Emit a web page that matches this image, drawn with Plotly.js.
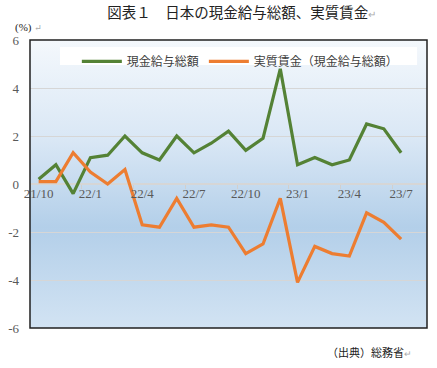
<!DOCTYPE html>
<html><head><meta charset="utf-8">
<script src="https://cdn.plot.ly/plotly-3.0.1.min.js"></script>
<style>html,body{margin:0;padding:0;background:#fff;}#chart{width:437px;height:368px;}</style>
</head><body><div id="chart"></div>
<script>
const months = ["21/10","21/11","21/12","22/1","22/2","22/3","22/4","22/5","22/6","22/7","22/8","22/9","22/10","22/11","22/12","23/1","23/2","23/3","23/4","23/5","23/6","23/7"];
const nominalWage = [0.2,0.8,-0.4,1.1,1.2,2.0,1.3,1.0,2.0,1.3,1.7,2.2,1.4,1.9,4.8,0.8,1.1,0.8,1.0,2.5,2.3,1.3];
const realWage = [0.1,0.1,1.3,0.5,0.0,0.6,-1.7,-1.8,-0.6,-1.8,-1.7,-1.8,-2.9,-2.5,-0.6,-4.1,-2.6,-2.9,-3.0,-1.2,-1.6,-2.3];
const seriesNames = ["現金給与総額","実質賃金（現金給与総額）"];
const yTicks = [-6,-4,-2,0,2,4,6];

const serif = "'Liberation Serif', 'Times New Roman', 'DejaVu Serif', serif";

const grad = "<svg xmlns='http://www.w3.org/2000/svg' width='100' height='100' preserveAspectRatio='none'><defs><linearGradient id='g' x1='0' y1='0' x2='0' y2='1'><stop offset='0' stop-color='#f4f8fc'/><stop offset='0.35' stop-color='#d9e7f5'/><stop offset='0.65' stop-color='#b3cfe9'/><stop offset='1' stop-color='#d2e3f3'/></linearGradient></defs><rect width='100' height='100' fill='url(#g)'/></svg>";
const gradSrc = "data:image/svg+xml;charset=utf-8," + encodeURIComponent(grad);

const traces = [
  {x: months, y: nominalWage, name: seriesNames[0], type: "scatter", mode: "lines", legendgroup: "a",
   line: {color: "#548235", width: 3.2}},
  {x: months, y: realWage, name: seriesNames[1], type: "scatter", mode: "lines", legendgroup: "b",
   line: {color: "#ED7D31", width: 3.2}}
];

const layout = {
  width: 437, height: 368,
  margin: {l: 30, r: 10, t: 40, b: 40},
  paper_bgcolor: "#ffffff",
  plot_bgcolor: "rgba(0,0,0,0)",
  font: {family: serif, color: "#595959", size: 13},
  title: {text: "図表１　日本の現金給与総額、実質賃金<span style='color:#aaaaaa;font-size:10px'>↵</span>",
          x: 0.553, xref: "container", y: 0.966, yref: "container", xanchor: "center", yanchor: "middle",
          font: {family: "Noto Sans CJK JP", size: 14.5, color: "#222222"}},
  xaxis: {type: "category", range: [-0.5, 22.5], tickmode: "linear", tick0: 0, dtick: 3, tickangle: 0,
          tickson: "boundaries", ticks: "outside", ticklen: 4, tickcolor: "#d0d0d0",
          anchor: "free", position: 0.5, showgrid: false, showline: false, zeroline: false,
          tickfont: {family: serif, size: 13, color: "#595959"}},
  yaxis: {range: [-6, 6], tickmode: "array", tickvals: yTicks, ticktext: yTicks.map(String),
          showgrid: true, gridcolor: "#d6d6d6", gridwidth: 1, zeroline: true, zerolinecolor: "#d6d6d6",
          zerolinewidth: 1.5, showline: false, ticks: "", ticklabelstandoff: 10,
          tickfont: {family: serif, size: 13, color: "#595959"}},
  showlegend: true,
  legend: {orientation: "h", x: 0.118, y: 0.976, xanchor: "left", yanchor: "top",
           bgcolor: "rgba(0,0,0,0)", borderwidth: 0, tracegroupgap: 18, itemwidth: 40,
           font: {family: "Noto Sans CJK JP", size: 12, color: "#404040"}},
  images: [{source: gradSrc, xref: "paper", yref: "paper", x: 0, y: 1, sizex: 1, sizey: 1,
            sizing: "stretch", layer: "below", xanchor: "left", yanchor: "top"}],
  shapes: [
    {type: "rect", xref: "paper", yref: "paper", x0: 0.0756, x1: 0.975, y0: 0.913, y1: 0.976,
     fillcolor: "#ffffff", line: {width: 0}, layer: "below"},
    {type: "rect", xref: "paper", yref: "paper", x0: 0, x1: 1, y0: 0, y1: 1,
     fillcolor: "rgba(0,0,0,0)", line: {color: "#202020", width: 1.5}, layer: "above"}
  ],
  annotations: [
    {text: "(%) <span style='color:#aaaaaa;font-size:9px'>↵</span>", xref: "paper", yref: "paper", x: -0.043, y: 1.045,
     xanchor: "left", yanchor: "middle", showarrow: false,
     font: {family: serif, size: 11, color: "#222222"}},
    {text: "（出典）総務省<span style='color:#aaaaaa;font-size:9px'>↵</span>", xref: "paper", yref: "paper", x: 0.967, y: -0.083,
     xanchor: "right", yanchor: "middle", showarrow: false,
     font: {family: "Noto Sans CJK JP", size: 11, color: "#222222"}}
  ]
};

Plotly.newPlot("chart", traces, layout, {displayModeBar: false, staticPlot: true});
</script></body></html>
